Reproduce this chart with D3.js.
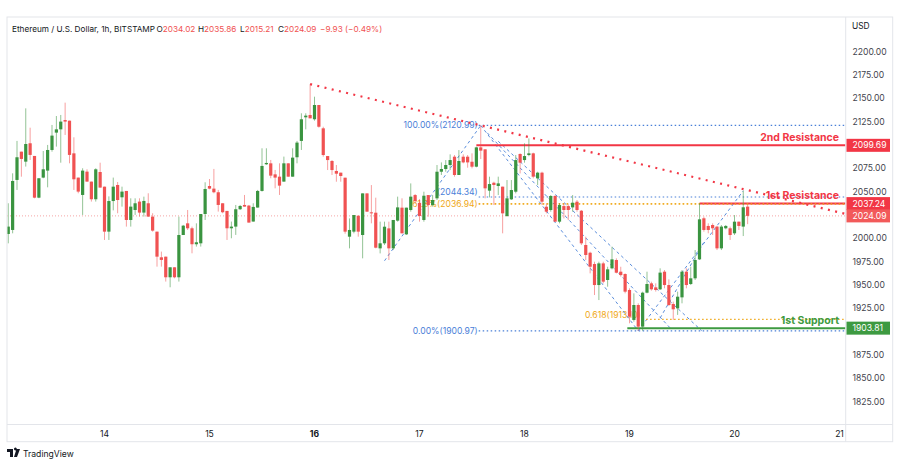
<!DOCTYPE html>
<html>
<head>
<meta charset="utf-8">
<script src="https://cdn.jsdelivr.net/npm/d3@7"></script>
<style>
  body { margin: 0; background: #fff; }
  svg { display: block; font-family: Inter, "Noto Sans", sans-serif; }
</style>
</head>
<body>
<div id="container"></div>
<script>
// hourly candles, first one is 13th 01:00 (hour -23 from the 14th 00:00)
const firstHour = -23;
const opens = [
  1990, 2004.7, 2009.0, 2062.6, 2092.9, 2082.2, 2101.9, 2088.3, 2043.6, 2065.1,
  2072.6, 2094.7, 2113.3, 2116.8, 2126.8, 2126.1, 2091.1, 2065.1, 2046.5, 2071.5,
  2060.8, 2041.9, 2071.1, 2055.4, 2007.2, 2040.0, 2057.2, 2044.0, 2050.8, 2019.7,
  2030.4, 2039.4, 2027.6, 2037.6, 2023.3, 2007.2, 1979.7, 1980.4, 1958.3, 1969.0,
  1958.3, 2003.6, 2016.1, 2010.8, 1993.7, 1994.7, 2026.1, 2056.1, 2053.3, 2049.4,
  2037.6, 2029.4, 2010.8, 2012.6, 2031.2, 2035.8, 2035.1, 2018.0, 2033.0, 2050.8,
  2079.4, 2080.4, 2068.6, 2066.1, 2060.8, 2080.4, 2066.1, 2086.9, 2104.4, 2129.7,
  2132.2, 2127.6, 2142.9, 2117.9, 2088.2, 2082.9, 2072.2, 2070.4, 2065.0, 2001.8,
  2007.2, 2024.3, 2003.6, 2048.2, 2027.9, 2027.5, 1989.3, 1994.7, 2010.7, 1989.3,
  2019.0, 2032.9, 2004.3, 2030.4, 2046.4, 2038.0, 2019.7, 2046.4, 2035.7, 2042.9,
  2071.4, 2074.3, 2078.6, 2087.5, 2067.9, 2087.5, 2087.5, 2082.1, 2076.8, 2097.5,
  2095.4, 2051.1, 2059.6, 2056.1, 2055.4, 2023.9, 2041.8, 2050.0, 2090.4, 2083.9,
  2089.3, 2091.1, 2064.3, 2070.4, 2033.9, 2030.4, 2045.4, 2017.9, 2034.6, 2034.6,
  2033.2, 2039.3, 2029.6, 1992.9, 1984.6, 1972.5, 1950.0, 1973.2, 1955.4, 1967.9,
  1976.8, 1964.3, 1961.8, 1944.7, 1912.6, 1928.6, 1905.4, 1941.8, 1951.8, 1947.5,
  1945.4, 1964.3, 1950.0, 1929.7, 1925.0, 1936.8, 1964.3, 1951.1, 1957.2, 1977.5,
  2021.5, 2013.3, 2014.3, 2012.6, 1989.3, 2010.8, 2010.8, 2005.4, 2017.9, 2012.6,
  2034.02
];
const highs = [
  2023, 2037.6, 2069.7, 2104.4, 2092.9, 2139.3, 2118.6, 2088.3, 2064.4, 2093.6,
  2100.1, 2121.5, 2131.1, 2132.2, 2145.4, 2126.1, 2108.3, 2065.1, 2075.1, 2074.0,
  2060.8, 2075.1, 2081.1, 2055.4, 2045.0, 2065.1, 2060.4, 2055.4, 2050.8, 2042.9,
  2042.9, 2042.9, 2044.7, 2048.3, 2026.9, 2007.2, 1985.8, 1980.4, 1969.0, 1969.0,
  2023.3, 2014.4, 2030.4, 2012.6, 2016.1, 2026.1, 2060.1, 2063.6, 2074.4, 2051.9,
  2037.6, 2029.4, 2018.0, 2035.8, 2035.8, 2046.5, 2035.8, 2037.6, 2051.9, 2096.5,
  2096.5, 2084.0, 2073.3, 2080.4, 2087.6, 2080.4, 2096.5, 2104.4, 2134.0, 2134.0,
  2165.3, 2151.8, 2142.9, 2119.6, 2088.2, 2083.9, 2078.6, 2070.4, 2065.0, 2021.4,
  2025.0, 2024.3, 2048.2, 2048.2, 2057.1, 2043.6, 2017.9, 2017.9, 2017.9, 2019.7,
  2044.7, 2042.9, 2032.9, 2058.9, 2047.5, 2042.0, 2050.0, 2046.4, 2046.4, 2078.6,
  2081.4, 2083.9, 2090.0, 2089.3, 2094.6, 2090.0, 2089.3, 2091.1, 2098.2, 2120.99,
  2095.4, 2066.1, 2060.7, 2066.1, 2055.4, 2062.5, 2062.5, 2089.3, 2091.1, 2101.8,
  2107.1, 2091.8, 2071.4, 2071.4, 2037.5, 2046.4, 2046.4, 2037.5, 2037.5, 2036.4,
  2046.4, 2041.1, 2030.4, 2001.8, 1985.7, 1975.0, 1975.0, 1975.0, 1969.6, 1991.1,
  1978.6, 1969.6, 1962.5, 1946.5, 1941.1, 1930.4, 1942.9, 1964.3, 1953.6, 1951.8,
  1967.9, 1966.1, 1956.1, 1932.2, 1942.9, 1966.1, 1967.9, 1969.7, 1987.5, 2037.5,
  2023.3, 2016.1, 2016.1, 2013.3, 2014.3, 2014.3, 2012.6, 2025.0, 2017.9, 2051.1,
  2035.86
];
const lows = [
  1950, 1994.7, 2005.4, 2051.9, 2066.1, 2076.9, 2084.0, 2042.9, 2043.0, 2064.4,
  2054.7, 2092.9, 2098.3, 2081.1, 2110.8, 2080.4, 2051.9, 2048.3, 2025.1, 2060.8,
  2039.4, 2039.4, 2054.4, 1998.3, 1998.3, 2030.0, 2026.9, 2034.0, 2012.6, 2012.6,
  2025.1, 2023.3, 2023.3, 2023.3, 2007.2, 1969.7, 1969.7, 1953.7, 1947.6, 1957.2,
  1953.7, 2003.6, 2009.0, 1984.0, 1991.2, 1991.2, 2019.7, 2052.6, 2048.3, 2028.7,
  2026.9, 1998.3, 2000.1, 2003.7, 2030.4, 2034.0, 2016.9, 2018.0, 2033.0, 2050.1,
  2078.7, 2064.4, 2053.6, 2046.5, 2060.8, 2066.1, 2066.1, 2080.4, 2094.7, 2116.8,
  2128.6, 2126.1, 2118.6, 2087.5, 2073.2, 2067.9, 2060.7, 2060.7, 2005.0, 1989.3,
  2005.4, 2001.8, 1978.6, 2028.6, 2016.1, 1989.3, 1983.9, 1992.9, 1976.8, 1987.5,
  2017.9, 2005.4, 2003.6, 2028.6, 2037.5, 2017.9, 2017.9, 2023.2, 2034.0, 2041.1,
  2067.9, 2071.4, 2073.2, 2066.1, 2067.9, 2080.4, 2075.7, 2075.0, 2076.1, 2085.0,
  2042.9, 2043.9, 2035.7, 2046.4, 2005.4, 2023.2, 2041.1, 2048.2, 2069.6, 2081.1,
  2088.0, 2064.3, 2057.1, 2035.7, 2026.8, 2028.6, 2017.9, 2016.1, 2021.4, 2019.6,
  2028.6, 2028.6, 1992.9, 1976.8, 1962.5, 1939.3, 1933.9, 1951.8, 1948.2, 1966.8,
  1962.5, 1959.0, 1941.1, 1909.0, 1910.8, 1900.97, 1901.0, 1941.1, 1944.0, 1943.0,
  1944.7, 1946.5, 1927.5, 1912.6, 1918.0, 1930.4, 1946.5, 1950.0, 1955.4, 1976.8,
  2007.2, 2005.4, 2003.6, 1987.5, 1987.5, 2009.7, 1998.3, 2003.6, 2009.0, 2002.5,
  2015.21
];
const closes = [
  1997, 2012.6, 2061.5, 2086.9, 2085.1, 2101.1, 2089.4, 2043.6, 2064.4, 2074.0,
  2094.7, 2110.1, 2116.8, 2125.1, 2125.1, 2089.4, 2063.3, 2050.1, 2072.6, 2060.8,
  2041.9, 2074.0, 2054.4, 2007.2, 2040.0, 2055.4, 2041.1, 2050.1, 2019.7, 2034.0,
  2037.6, 2027.6, 2040.1, 2023.3, 2008.3, 1980.4, 1976.9, 1958.3, 1969.0, 1958.3,
  2003.6, 2013.6, 2010.8, 1993.7, 1995.8, 2026.1, 2052.9, 2053.3, 2049.4, 2035.8,
  2028.0, 2010.8, 2012.6, 2031.2, 2034.7, 2034.0, 2016.9, 2033.7, 2050.8, 2077.6,
  2080.8, 2067.2, 2065.1, 2056.5, 2080.4, 2066.1, 2086.5, 2102.6, 2127.6, 2131.5,
  2128.6, 2142.9, 2119.6, 2089.3, 2083.9, 2073.2, 2069.3, 2066.8, 2007.2, 2009.0,
  2025.0, 2007.2, 2048.2, 2028.6, 2026.8, 1990.0, 1994.7, 2012.5, 1989.3, 2019.7,
  2033.2, 2005.4, 2032.9, 2044.7, 2040.0, 2024.0, 2045.7, 2035.7, 2041.1, 2071.4,
  2074.3, 2078.6, 2083.9, 2067.9, 2082.9, 2081.4, 2081.4, 2076.8, 2097.5, 2094.0,
  2053.6, 2058.2, 2057.2, 2058.9, 2026.8, 2042.9, 2051.8, 2083.9, 2081.1, 2088.2,
  2091.1, 2066.1, 2070.4, 2039.3, 2028.6, 2045.4, 2017.9, 2035.7, 2030.4, 2030.4,
  2038.2, 2030.4, 1994.7, 1982.2, 1969.6, 1950.0, 1973.2, 1953.6, 1966.8, 1977.5,
  1963.2, 1960.7, 1942.9, 1916.1, 1928.6, 1905.4, 1941.8, 1951.1, 1945.4, 1944.7,
  1963.3, 1950.0, 1928.6, 1924.0, 1937.5, 1964.3, 1950.0, 1957.2, 1976.8, 2020.4,
  2009.0, 2009.0, 2010.8, 1989.3, 2012.6, 2013.3, 2003.6, 2017.9, 2013.3, 2033.3,
  2024.09
];

const dayLabels = [14, 15, 16, 17, 18, 19, 20, 21];
const priceTicks = [1825, 1850, 1875, 1925, 1950, 1975, 2000, 2050, 2075, 2125, 2150, 2175, 2200];
const lastPrice = 2024.09;

// header values
const headerKeys = ["O", "H", "L", "C"];
const headerVals = ["2034.02", "2035.86", "2015.21", "2024.09"];
const headerChange = "\u22129.93 (\u22120.49%)";

// horizontal analysis levels
const levelPrices = [2099.69, 2037.24, 1903.81];
const levelStart = [85, 136, 119.5];
const levelNames = ["2nd Resistance", "1st Resistance", "1st Support"];
const levelColors = ["#f23645", "#f23645", "#3d9a41"];

// fibonacci levels
const fibPrices = [2120.99, 2044.34, 2036.94, 1900.97];
const fibTexts = ["100.00%(2120.99)", "(2044.34)", "61.8%(2036.94)", "0.00%(1900.97)"];
const fibColors = ["#4a80d8", "#4a80d8", "#f0a818", "#4a80d8"];
const fibTextShift = [0, -4.5, 0, 0];
const fib2Price = 1913.1;

// trend lines [hour, price]
const redTrend = [[47, 2165.3], [169.4, 2026.2]];
const blueDashed = [
  [[64, 1976], [86, 2120.99]],
  [[86, 2120.99], [122, 1900.97]],
  [[87.5, 2113], [129.5, 1903]],
  [[90, 2104], [136.5, 1901]],
  [[122, 1900.97], [146, 2051]],
  [[127, 1914.7], [137.3, 1998.3]]
];

const W = 900, H = 466;
const plotL = 7, plotR = 845.7, plotT = 17, plotB = 424.5, frameR = 892.7, frameB = 441.7;

const svg = d3.select("#container").append("svg")
  .attr("width", W).attr("height", H);

svg.append("rect").attr("width", W).attr("height", H).attr("fill", "#fff");

const x = d3.scaleLinear().domain([0, 168]).range([104.5, 839.5]);
const y = d3.scaleLinear().domain([1825, 2200]).range([401.7, 51.7]);

const candles = opens.map((o, i) => ({
  t: firstHour + i, o, h: highs[i], l: lows[i], c: closes[i]
}));

const green = "#3a9440", red = "#f05252";

// frame
svg.append("rect")
  .attr("x", plotL).attr("y", plotT)
  .attr("width", frameR - plotL).attr("height", frameB - plotT)
  .attr("fill", "none").attr("stroke", "#e3e5ea");
svg.append("line").attr("x1", plotR).attr("x2", plotR).attr("y1", plotT).attr("y2", frameB)
  .attr("stroke", "#e3e5ea");
svg.append("line").attr("x1", plotL).attr("x2", frameR).attr("y1", plotB).attr("y2", plotB)
  .attr("stroke", "#e3e5ea");

// header
const header = svg.append("text").attr("x", 12).attr("y", 31.5)
  .attr("font-size", 8.2).attr("fill", "#131722");
header.append("tspan").text("Ethereum / U.S. Dollar, 1h, BITSTAMP");
const headerX = [156.5, 198, 240, 278];
headerKeys.forEach((k, i) => {
  header.append("tspan").attr("x", headerX[i]).text(k);
  header.append("tspan").attr("fill", red).text(headerVals[i]);
});
header.append("tspan").attr("x", 320).attr("fill", red).text(headerChange);

// clip
svg.append("clipPath").attr("id", "plot")
  .append("rect").attr("x", plotL + 0.5).attr("y", plotT + 0.5)
  .attr("width", plotR - plotL - 1).attr("height", plotB - plotT - 1);
const g = svg.append("g").attr("clip-path", "url(#plot)");

// last price line
g.append("line")
  .attr("x1", plotL).attr("x2", plotR)
  .attr("y1", y(lastPrice)).attr("y2", y(lastPrice))
  .attr("stroke", "#f5a5a5").attr("stroke-width", 1).attr("stroke-dasharray", "1,2");

// fib labels & lines (drawn below candles)
const fibX = x(85.3);
fibPrices.forEach((p, i) => {
  g.append("line")
    .attr("x1", fibX + 1).attr("x2", plotR)
    .attr("y1", y(p)).attr("y2", y(p))
    .attr("stroke", fibColors[i]).attr("stroke-width", 1.2).attr("stroke-dasharray", "1.5,2.5");
  g.append("text")
    .attr("x", fibX).attr("y", y(p) + fibTextShift[i] + 3)
    .attr("text-anchor", "end").attr("font-size", 8.6)
    .attr("fill", fibColors[i]).text(fibTexts[i]);
});

g.append("text")
  .attr("x", x(122.6)).attr("y", y(fib2Price) - 1.5)
  .attr("text-anchor", "end").attr("font-size", 8.6).attr("fill", "#f0a818")
  .text("0.618(1913.10)");

// blue dashed lines
const line = d3.line().x(d => x(d[0])).y(d => y(d[1]));
blueDashed.forEach(seg => {
  g.append("path").attr("d", line(seg))
    .attr("fill", "none").attr("stroke", "#5a8ddb").attr("stroke-width", 1)
    .attr("stroke-dasharray", "3,3");
});

// levels
levelPrices.forEach((p, i) => {
  g.append("line")
    .attr("x1", x(levelStart[i])).attr("x2", plotR)
    .attr("y1", y(p)).attr("y2", y(p))
    .attr("stroke", levelColors[i]).attr("stroke-width", 2);
});

// orange dotted lines over the levels
g.append("line")
  .attr("x1", fibX + 1).attr("x2", plotR)
  .attr("y1", y(fibPrices[2])).attr("y2", y(fibPrices[2]))
  .attr("stroke", "#f0a818").attr("stroke-width", 1.2).attr("stroke-dasharray", "1.5,2.5");
g.append("line")
  .attr("x1", x(123.8)).attr("x2", plotR)
  .attr("y1", y(fib2Price)).attr("y2", y(fib2Price))
  .attr("stroke", "#f0a818").attr("stroke-width", 1.2).attr("stroke-dasharray", "1.5,2.5");

// candles
const cg = g.append("g");
cg.selectAll("line.wick").data(candles).join("line")
  .attr("class", "wick")
  .attr("x1", d => x(d.t)).attr("x2", d => x(d.t))
  .attr("y1", d => y(d.h)).attr("y2", d => y(d.l))
  .attr("stroke", d => d.c >= d.o ? green : red)
  .attr("stroke-opacity", 0.55).attr("stroke-width", 1);
cg.selectAll("rect.body").data(candles).join("rect")
  .attr("class", "body")
  .attr("x", d => x(d.t) - 1.6).attr("width", 3.2)
  .attr("y", d => y(Math.max(d.o, d.c)))
  .attr("height", d => Math.max(1, Math.abs(y(d.o) - y(d.c))))
  .attr("fill", d => d.c >= d.o ? green : red);

// red dotted trend line
g.append("path").attr("d", line(redTrend))
  .attr("fill", "none").attr("stroke", "#f23645").attr("stroke-width", 2.2)
  .attr("stroke-dasharray", "2,5.4");

// level labels
const labelY = [136.7, 195, 320];
levelNames.forEach((n, i) => {
  g.append("text")
    .attr("x", 839).attr("y", labelY[i] + 3.8)
    .attr("text-anchor", "end").attr("font-size", 10.5).attr("font-weight", 700)
    .attr("fill", levelColors[i]).text(n);
});

// right axis
svg.append("text").attr("x", 852).attr("y", 29).attr("font-size", 8.4)
  .attr("fill", "#131722").text("USD");
svg.selectAll("text.ptick").data(priceTicks).join("text")
  .attr("class", "ptick")
  .attr("x", 852.5).attr("y", d => y(d) + 3)
  .attr("font-size", 8.6).attr("fill", "#3f434d")
  .text(d => d3.format(".2f")(d));

// axis price boxes
const boxes = [
  [2099.69, "#f23645"], [2037.24, "#f23645"], [lastPrice, "#f25a5a"], [1903.81, "#3d9a41"]
];
boxes.forEach(([p, col]) => {
  svg.append("rect").attr("x", 846.5).attr("y", y(p) - 6.5)
    .attr("width", 43.5).attr("height", 13).attr("fill", col);
  svg.append("text").attr("x", 852.5).attr("y", y(p) + 3)
    .attr("font-size", 8.6).attr("fill", "#fff").text(d3.format(".2f")(p));
});

// bottom axis
svg.selectAll("text.day").data(dayLabels).join("text")
  .attr("class", "day")
  .attr("x", d => x((d - 14) * 24)).attr("y", 437)
  .attr("text-anchor", "middle").attr("font-size", 8.6)
  .attr("font-weight", d => d === 16 ? 700 : 400)
  .attr("fill", "#131722").text(d => d);

// TradingView mark
const logo = svg.append("g").attr("transform", "translate(7,449)");
logo.append("path")
  .attr("d", "M0,0 H6 V8 H3 V3 H0 Z M7,0 A1.4,1.4 0 1 1 7,0.01 Z M9.5,0 H13 L10,8 H7 Z")
  .attr("fill", "#131722");
logo.append("text").attr("x", 16).attr("y", 8).attr("font-size", 8.6)
  .attr("fill", "#131722").text("TradingView");
</script>
</body>
</html>
